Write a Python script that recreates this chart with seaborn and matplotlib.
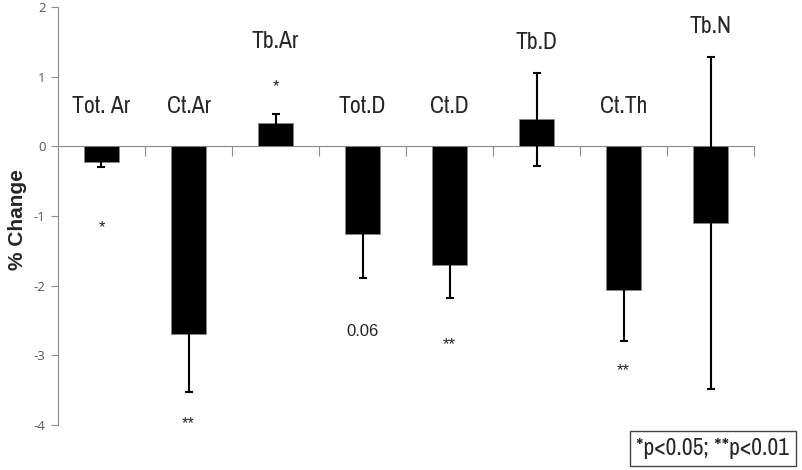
import matplotlib
matplotlib.use('Agg')
import matplotlib.pyplot as plt
from matplotlib import font_manager
import seaborn as sns
import pandas as pd

# values
params = ['Tot. Ar', 'Ct.Ar', 'Tb.Ar', 'Tot.D', 'Ct.D', 'Tb.D', 'Ct.Th', 'Tb.N']
pct_change = [-0.22, -2.70, 0.33, -1.26, -1.70, 0.39, -2.06, -1.10]
sem = [0.08, 0.83, 0.13, 0.63, 0.48, 0.67, 0.74, 2.38]
label_y = [0.57, 0.57, 1.51, 0.57, 0.57, 1.49, 0.57, 1.72]
sig_marks = ['*', '**', '*', '0.06', '**', '', '**', '']
sig_y = [-1.16, -3.98, 0.86, -2.65, -2.84, 0, -3.22, 0]

df = pd.DataFrame({'param': params, 'change': pct_change})

sns.set_style('white')
plt.rcParams['font.family'] = ['Liberation Sans', 'DejaVu Sans']
plt.rcParams['axes.unicode_minus'] = False

# pick a condensed face like Arial Narrow if one is installed
available = set(f.name for f in font_manager.fontManager.ttflist)
narrow = 'Liberation Sans'
for cand in ['Liberation Sans Narrow', 'Arial Narrow', 'Archivo Narrow',
             'PT Sans Narrow', 'Roboto Condensed', 'Open Sans Condensed']:
    if cand in available:
        narrow = cand
        break
narrow_size = 17 if narrow != 'Liberation Sans' else 14

fig = plt.figure(figsize=(8.02, 4.70), dpi=100)
ax = fig.add_axes([0.0723, 0.0957, 0.868, 0.889])

sns.barplot(data=df, x='param', y='change', color='black', width=0.4,
            edgecolor='#888888', linewidth=0.6, ax=ax)
ax.errorbar(range(len(params)), pct_change, yerr=sem, fmt='none',
            ecolor='black', elinewidth=1.5, capsize=3, capthick=1.5)

# category labels and significance markers
for i, name in enumerate(params):
    ax.text(i, label_y[i], name, ha='center', va='center', fontsize=narrow_size,
            family=[narrow, 'DejaVu Sans'])
    if sig_marks[i]:
        ax.text(i, sig_y[i], sig_marks[i], ha='center', va='center', fontsize=12,
                color='#222222')

ax.set_xlim(-0.5, len(params) - 0.5)
ax.set_ylim(-4, 2)
ax.set_yticks(range(-4, 3))
ax.set_xticks([i + 0.5 for i in range(len(params))])
ax.set_xticklabels([])
ax.set_xlabel('')
ax.set_ylabel('')
fig.text(0.022, 0.532, '% Change', rotation=90, ha='center', va='center',
         fontsize=15, fontweight='bold')

for side in ['top', 'right']:
    ax.spines[side].set_visible(False)
ax.spines['bottom'].set_position(('data', 0))
ax.spines['bottom'].set_color('#8c8c8c')
ax.spines['left'].set_color('#8c8c8c')
ax.spines['bottom'].set_zorder(0)
ax.tick_params(axis='y', direction='out', length=5, color='#8c8c8c',
               labelcolor='#555555', labelsize=9.5, left=True, pad=4)
ax.tick_params(axis='x', direction='out', length=7, color='#8c8c8c', bottom=True)
for lbl in ax.get_yticklabels():
    lbl.set_family(['Open Sans', 'DejaVu Sans'])

fig.text(0.889, 0.0457, '*p<0.05; **p<0.01', ha='center', va='center',
         fontsize=narrow_size, family=[narrow, 'DejaVu Sans'],
         bbox=dict(facecolor='white', edgecolor='#444444', linewidth=1, pad=5))

fig.savefig('out.png', dpi=100)
